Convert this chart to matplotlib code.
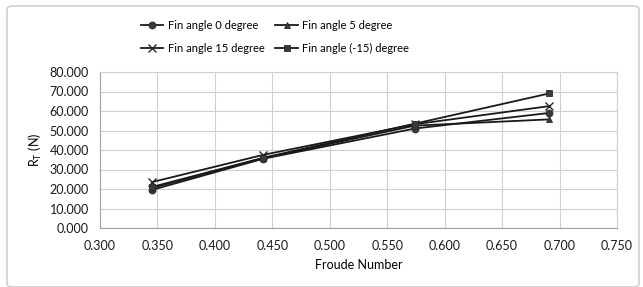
import numpy as np
import matplotlib.pyplot as plt
from matplotlib.patches import FancyBboxPatch

# --- data ---
froude = [0.345, 0.442, 0.574, 0.691]
rt_0 = [19.5, 35.5, 51.0, 59.0]
rt_5 = [20.5, 35.8, 52.5, 55.7]
rt_15 = [23.5, 37.5, 53.2, 62.5]
rt_m15 = [21.0, 36.0, 53.5, 69.0]

series = [
    ("Fin angle 0 degree", rt_0, "o"),
    ("Fin angle 5 degree", rt_5, "^"),
    ("Fin angle 15 degree", rt_15, "x"),
    ("Fin angle (-15) degree", rt_m15, "s"),
]

plt.rcParams["font.family"] = ["Lato", "DejaVu Sans"]

fig = plt.figure(figsize=(6.43, 2.87), dpi=100)
ax = fig.add_axes([100 / 643, 1 - 228 / 287, 517 / 643, 156 / 287])

# outer frame
frame = FancyBboxPatch((7 / 643, 0.0), 632 / 643, 1 - 6 / 287,
                       boxstyle="round,pad=0,rounding_size=0.01",
                       transform=fig.transFigure, fill=False,
                       edgecolor="#c8c8c8", linewidth=1.0)
fig.patches.append(frame)

handles = []
for label, vals, m in series:
    h, = ax.plot(froude, vals, color="#1a1a1a", linewidth=1.3, marker=m,
                 markersize=5 if m != "x" else 6, markerfacecolor="#3a3a3a",
                 markeredgecolor="#2a2a2a", markeredgewidth=1.0 if m == "x" else 0.6,
                 label=label, zorder=3)
    handles.append(h)

ax.set_xlim(0.3, 0.75)
ax.set_ylim(0, 80)
xt = np.arange(0.3, 0.751, 0.05)
yt = np.arange(0, 80.1, 10)
ax.set_xticks(xt)
ax.set_yticks(yt)
ax.set_xticklabels([f"{v:.3f}" for v in xt])
ax.set_yticklabels([f"{v:.3f}" for v in yt])
ax.tick_params(length=0, labelsize=9, colors="#1a1a1a")
ax.tick_params(axis="x", pad=9)
ax.tick_params(axis="y", pad=8)
ax.grid(True, color="#d0d0d0", linewidth=0.8)
ax.set_axisbelow(True)
for s in ax.spines.values():
    s.set_color("#d0d0d0")
    s.set_linewidth(0.8)
ax.spines["left"].set_color("#a0a0a0")
ax.spines["bottom"].set_color("#a0a0a0")

ax.set_xlabel("Froude Number", fontsize=9, labelpad=5)
ax.set_ylabel(r"R$_\mathregular{T}$ (N)", fontsize=9, labelpad=4)

# row-wise order like the original: (0, 5) on top, (15, -15) below
order = [0, 2, 1, 3]
fig.legend([handles[i] for i in order], [series[i][0] for i in order],
           loc="center", bbox_to_anchor=(275 / 643, 1 - 37 / 287), ncol=2,
           frameon=False, fontsize=8, handlelength=2.0, columnspacing=1.0,
           handletextpad=0.4, labelspacing=1.1)

fig.savefig("out.png", dpi=100)
